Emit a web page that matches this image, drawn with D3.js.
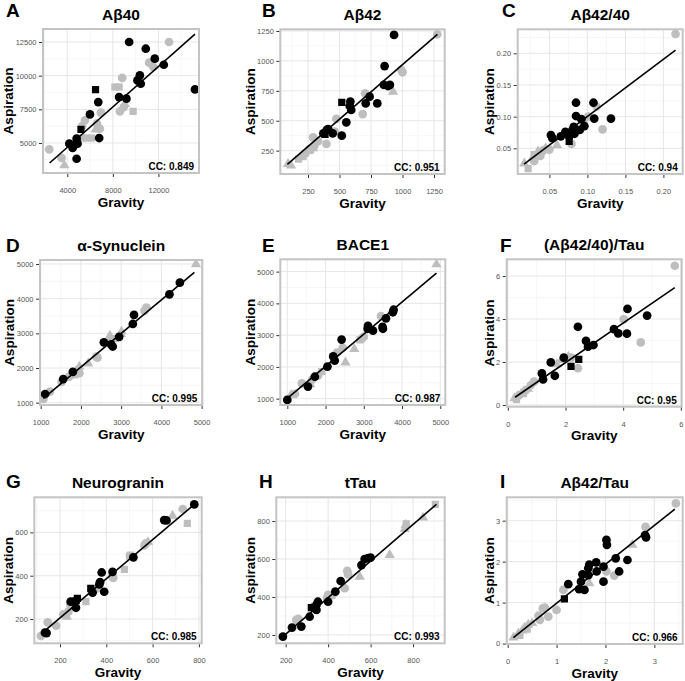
<!DOCTYPE html>
<html><head><meta charset="utf-8">
<script src="https://cdn.jsdelivr.net/npm/d3@7"></script>
<style>
body{margin:0;background:#fff}
svg{display:block}
text{font-family:"Liberation Sans",Arial,Helvetica,sans-serif}
</style>
</head><body>
<svg id="c" width="685" height="681"></svg>
<script>
// ---------------- DATA ----------------
// group codes: first letter colour (b = black, g = grey), second letter shape (c circle, s square, t triangle)
const panelLetters = ["A","B","C","D","E","F","G","H","I"];
const panelTitles = ["Aβ40","Aβ42","Aβ42/40","α-Synuclein","BACE1","(Aβ42/40)/Tau","Neurogranin","tTau","Aβ42/Tau"];
const ccValues = ["0.849","0.951","0.94","0.995","0.987","0.95","0.985","0.993","0.966"];

const ab40Pts = [
 [12930,12500,"gc"],[11180,10960,"gc"],[11550,10650,"gc"],[8820,9830,"gc"],[8620,7350,"gc"],[8960,7670,"gc"],
 [5550,6680,"gc"],[6950,7250,"gc"],[6860,6060,"gc"],[6600,6450,"gc"],[5300,6250,"gc"],[2420,4530,"gc"],[3500,3890,"gc"],[4700,4850,"gc"],
 [8180,9160,"gs"],[8550,9160,"gs"],[9780,7350,"gs"],[5300,5370,"gs"],[5690,5370,"gs"],[6130,5370,"gs"],
 [3740,3340,"gt"],[9050,7900,"gt"],[6500,6000,"gt"],
 [9430,12500,"bc"],[10890,12000,"bc"],[11680,11260,"bc"],[12470,10810,"bc"],[10370,10020,"bc"],[10160,9650,"bc"],
 [10450,9400,"bc"],[15210,8980,"bc"],[8550,8410,"bc"],[9190,8290,"bc"],[6720,8040,"bc"],[5990,7120,"bc"],
 [6800,5370,"bc"],[4180,4950,"bc"],[4900,4950,"bc"],[4820,5320,"bc"],[4470,4630,"bc"],[4820,3830,"bc"],
 [6480,8960,"bs"],[5200,6010,"bs"]
];
const ab42Pts = [
 [1276,1222,"gc"],[991,924,"gc"],[1000,905,"gc"],[703,729,"gc"],[684,556,"gc"],[475,515,"gc"],[462,409,"gc"],
 [290,361,"gc"],[396,306,"gc"],[330,330,"gc"],[260,260,"gc"],[300,290,"gc"],[230,230,"gc"],
 [91,139,"gt"],[925,743,"gt"],[290,270,"gt"],[245,250,"gt"],[200,200,"gt"],[115,125,"gt"],
 [210,200,"gs"],[175,180,"gs"],[270,255,"gs"],
 [933,1217,"bc"],[858,957,"bc"],[852,799,"bc"],[885,790,"bc"],[900,800,"bc"],[739,701,"bc"],[708,645,"bc"],
 [800,645,"bc"],[586,660,"bc"],[593,590,"bc"],[581,623,"bc"],[554,487,"bc"],[518,375,"bc"],[399,423,"bc"],
 [372,395,"bc"],[446,395,"bc"],[410,430,"bc"],
 [518,654,"bs"],[385,385,"bs"]
];
const ratioPts = [
 [0.216,0.2305,"gc"],[0.120,0.080,"gc"],[0.112,0.116,"gc"],[0.101,0.100,"gc"],[0.079,0.057,"gc"],[0.095,0.090,"gc"],
 [0.038,0.038,"gc"],[0.042,0.047,"gc"],[0.030,0.030,"gc"],[0.050,0.048,"gc"],
 [0.017,0.026,"gt"],[0.035,0.045,"gt"],[0.045,0.050,"gt"],[0.060,0.055,"gt"],[0.028,0.035,"gt"],
 [0.022,0.018,"gs"],[0.030,0.040,"gs"],[0.040,0.045,"gs"],
 [0.108,0.122,"bc"],[0.085,0.122,"bc"],[0.085,0.101,"bc"],[0.092,0.096,"bc"],[0.109,0.097,"bc"],[0.131,0.097,"bc"],
 [0.082,0.084,"bc"],[0.090,0.079,"bc"],[0.096,0.085,"bc"],[0.071,0.076,"bc"],[0.076,0.069,"bc"],[0.052,0.071,"bc"],
 [0.054,0.066,"bc"],[0.065,0.069,"bc"],[0.080,0.078,"bc"],[0.083,0.073,"bc"],
 [0.076,0.061,"bs"]
];
const synPts = [
 [3630,3740,"gc"],[3580,3650,"gc"],[2410,2300,"gc"],[2380,2330,"gc"],[1710,1750,"gc"],[1960,1850,"gc"],
 [1230,1320,"gc"],[1070,1110,"gc"],[1520,1600,"gc"],[2750,2790,"gc"],
 [1950,1950,"gs"],[1850,1800,"gs"],[2850,2850,"gs"],
 [4860,4990,"gt"],[3010,3050,"gt"],[2720,2930,"gt"],[2180,2130,"gt"],[1960,2040,"gt"],[1880,1890,"gt"],[2990,2980,"gt"],
 [4460,4460,"bc"],[4200,4125,"bc"],[3320,3530,"bc"],[3290,3270,"bc"],[2950,2900,"bc"],[2570,2740,"bc"],
 [2790,2620,"bc"],[1800,1890,"bc"],[1110,1250,"bc"],[2750,2680,"bc"],[1560,1680,"bc"]
];
const bacePts = [
 [2950,2890,"gc"],[3000,2950,"gc"],[3450,3600,"gc"],[2300,2450,"gc"],[1380,1480,"gc"],[1800,1720,"gc"],
 [1650,1600,"gc"],[2450,2600,"gc"],[1200,1150,"gc"],
 [2900,2850,"gs"],[1900,1850,"gs"],
 [4900,5230,"gt"],[2520,2140,"gt"],[2750,2560,"gt"],[1100,1120,"gt"],[1600,1450,"gt"],
 [3780,3800,"bc"],[3760,3720,"bc"],[3580,3530,"bc"],[3490,3260,"bc"],[3110,3290,"bc"],[3240,3140,"bc"],
 [2420,2860,"bc"],[2200,2330,"bc"],[2240,2200,"bc"],[2050,2010,"bc"],[1720,1690,"bc"],[1540,1380,"bc"],
 [1000,960,"bc"],[3100,3200,"bc"],[3500,3200,"bc"]
];
const ratioTauPts = [
 [5.79,6.48,"gc"],[4.02,3.98,"gc"],[4.61,2.91,"gc"],[2.43,1.71,"gc"],[0.80,0.93,"gc"],[0.91,1.09,"gc"],
 [0.63,0.70,"gc"],[0.40,0.47,"gc"],[0.29,0.31,"gc"],[2.20,2.20,"gc"],
 [1.86,2.09,"gt"],[2.10,2.25,"gt"],[0.23,0.31,"gt"],[0.50,0.50,"gt"],[0.70,0.75,"gt"],[1.70,1.90,"gt"],
 [0.30,0.25,"gs"],[0.55,0.60,"gs"],
 [4.15,4.47,"bc"],[4.83,4.16,"bc"],[3.68,3.53,"bc"],[3.83,3.33,"bc"],[4.13,3.32,"bc"],[2.43,3.64,"bc"],
 [2.71,2.98,"bc"],[2.78,2.71,"bc"],[2.97,2.79,"bc"],[1.94,2.20,"bc"],[1.49,1.98,"bc"],[1.63,1.36,"bc"],
 [1.18,1.47,"bc"],[1.22,1.19,"bc"],
 [2.46,2.12,"bs"],[2.19,1.80,"bs"]
];
const ngPts = [
 [730,708,"gc"],[571,549,"gc"],[565,540,"gc"],[427,400,"gc"],[430,390,"gc"],[361,342,"gc"],[236,234,"gc"],
 [214,221,"gc"],[183,169,"gc"],[118,122,"gc"],[147,185,"gc"],[245,265,"gc"],
 [750,642,"gs"],[500,490,"gs"],[505,495,"gs"],[478,429,"gs"],[333,338,"gs"],[312,280,"gs"],
 [686,677,"gt"],[229,211,"gt"],[580,555,"gt"],
 [780,729,"bc"],[650,657,"bc"],[660,655,"bc"],[517,485,"bc"],[380,415,"bc"],[427,418,"bc"],[373,370,"bc"],
 [370,360,"bc"],[391,326,"bc"],[341,322,"bc"],[246,280,"bc"],[269,252,"bc"],[135,137,"bc"],[142,135,"bc"],
 [333,342,"bs"],[275,295,"bs"],[270,285,"bs"]
];
const tauPts = [
 [494,519,"gc"],[490,537,"gc"],[478,446,"gc"],[400,411,"gc"],[395,395,"gc"],[250,279,"gc"],[260,285,"gc"],[420,410,"gc"],
 [905,888,"gs"],[768,785,"gs"],
 [847,818,"gt"],[765,779,"gt"],[760,758,"gt"],[690,621,"gt"],[549,507,"gt"],
 [600,607,"bc"],[588,605,"bc"],[572,600,"bc"],[557,568,"bc"],[459,484,"bc"],[434,428,"bc"],[400,375,"bc"],
 [352,375,"bc"],[345,358,"bc"],[329,344,"bc"],[313,296,"bc"],[345,332,"bc"],[274,244,"bc"],[230,239,"bc"],[187,191,"bc"],
 [321,344,"bs"]
];
const ab42TauPts = [
 [3.44,3.42,"gc"],[2.82,2.85,"gc"],[2.02,1.76,"gc"],[2.18,1.66,"gc"],[1.14,1.31,"gc"],[0.76,0.88,"gc"],
 [0.72,0.86,"gc"],[1.00,0.82,"gc"],[0.83,0.66,"gc"],[0.63,0.68,"gc"],[0.66,0.58,"gc"],
 [2.55,2.41,"gt"],[1.67,1.47,"gt"],[0.42,0.46,"gt"],[0.35,0.39,"gt"],[0.22,0.25,"gt"],[0.12,0.15,"gt"],[0.30,0.32,"gt"],[0.50,0.50,"gt"],
 [0.25,0.20,"gs"],[0.40,0.35,"gs"],
 [2.81,2.65,"bc"],[2.83,2.59,"bc"],[2.02,2.53,"bc"],[2.03,2.41,"bc"],[2.21,2.08,"bc"],[2.45,2.04,"bc"],
 [2.28,1.76,"bc"],[1.96,1.88,"bc"],[1.96,1.51,"bc"],[1.81,1.98,"bc"],[1.82,1.76,"bc"],[1.67,1.93,"bc"],
 [1.65,1.84,"bc"],[1.53,1.69,"bc"],[1.65,1.67,"bc"],[1.50,1.51,"bc"],[1.46,1.33,"bc"],[1.57,1.31,"bc"],[1.24,1.45,"bc"],
 [1.16,1.09,"bs"]
];

// fitted regression lines (start, end)
const ab40Fit = [[2450,3515],[15210,13090]];
const ab42Fit = [[86,136],[1277,1222]];
const ratioFit = [[0.0167,0.025],[0.216,0.205]];
const synFit = [[1066,1125],[4820,4760]];
const baceFit = [[1000,1010],[4900,4950]];
const ratioTauFit = [[0.25,0.36],[5.79,5.46]];
const ngFit = [[121,134],[780,729]];
const tauFit = [[187,191],[910,888]];
const ab42TauFit = [[0.116,0.146],[3.42,3.28]];

// axis ticks
const ab40XTicks = [4000,8000,12000], ab40YTicks = [5000,7500,10000,12500];
const ab42XTicks = [250,500,750,1000,1250], ab42YTicks = [250,500,750,1000,1250];
const ratioXTicks = [0.05,0.10,0.15,0.20], ratioYTicks = [0.05,0.10,0.15,0.20];
const synXTicks = [1000,2000,3000,4000,5000], synYTicks = [1000,2000,3000,4000,5000];
const baceXTicks = [1000,2000,3000,4000,5000], baceYTicks = [1000,2000,3000,4000,5000];
const ratioTauXTicks = [0,2,4,6], ratioTauYTicks = [0,2,4,6];
const ngXTicks = [200,400,600,800], ngYTicks = [200,400,600];
const tauXTicks = [200,400,600,800], tauYTicks = [200,400,600,800];
const ab42TauXTicks = [0,1,2,3], ab42TauYTicks = [0,1,2,3];

// axis domains
const ab40XDomain = [1869,15562], ab40YDomain = [2772,13465];
const ab42XDomain = [30,1335], ab42YDomain = [55,1264];
const ratioXDomain = [0.0083,0.2254], ratioYDomain = [0.0095,0.2379];
const synXDomain = [983,5017], synYDomain = [933,5115];
const baceXDomain = [817,5131], baceYDomain = [800,5388];
const ratioTauXDomain = [-0.04,6.03], ratioTauYDomain = [-0.08,6.78];
const ngXDomain = [89,812], ngYDomain = [88,762];
const tauXDomain = [156,949], tauYDomain = [156,925];
const ab42TauXDomain = [-0.02,3.58], ab42TauYDomain = [-0.01,3.57];

// ---------------- LAYOUT ----------------
const rects = [
 [43,29,199,173],[280.3,29.3,444.7,174],[517.7,29.3,682.7,174],
 [40,260,202.3,405],[280.3,259.3,445.3,405],[506.7,259.3,681.7,406.7],
 [34.3,497.3,201.7,643.3],[276.3,497.3,444.7,643.3],[506.7,497.3,682.7,644]
];
const letterPos = [[6,17],[262,17],[502,17],[6,252],[262,252],[500,252],[6,487.5],[259,487.5],[500,487.5]];

const pts = [ab40Pts,ab42Pts,ratioPts,synPts,bacePts,ratioTauPts,ngPts,tauPts,ab42TauPts];
const fits = [ab40Fit,ab42Fit,ratioFit,synFit,baceFit,ratioTauFit,ngFit,tauFit,ab42TauFit];
const xTicks = [ab40XTicks,ab42XTicks,ratioXTicks,synXTicks,baceXTicks,ratioTauXTicks,ngXTicks,tauXTicks,ab42TauXTicks];
const yTicks = [ab40YTicks,ab42YTicks,ratioYTicks,synYTicks,baceYTicks,ratioTauYTicks,ngYTicks,tauYTicks,ab42TauYTicks];
const xDoms = [ab40XDomain,ab42XDomain,ratioXDomain,synXDomain,baceXDomain,ratioTauXDomain,ngXDomain,tauXDomain,ab42TauXDomain];
const yDoms = [ab40YDomain,ab42YDomain,ratioYDomain,synYDomain,baceYDomain,ratioTauYDomain,ngYDomain,tauYDomain,ab42TauYDomain];

const svg = d3.select("#c");
const FONT = '"Liberation Sans",Arial,Helvetica,sans-serif';
const GREY = "#bebebe";
const symType = {c: d3.symbolCircle, s: d3.symbolSquare, t: d3.symbolTriangle};
const symSize = {c: 60, s: 52, t: 46};

function minorOf(ticks, dom){
  const s = ticks[1]-ticks[0], out=[];
  for(let k=-30;k<=60;k++){const v=ticks[0]+(k+0.5)*s; if(v>dom[0]&&v<dom[1]) out.push(v);}
  return out;
}

for(let i=0;i<9;i++){
  const [x0,y0,x1,y1] = rects[i];
  const x = d3.scaleLinear().domain(xDoms[i]).range([x0,x1]);
  const y = d3.scaleLinear().domain(yDoms[i]).range([y1,y0]);
  const fmt = i===2 ? d3.format(".2f") : d3.format("d");
  const g = svg.append("g");
  g.append("rect").attr("x",x0).attr("y",y0).attr("width",x1-x0).attr("height",y1-y0).attr("fill","#fff");

  // grid
  const grid = g.append("g");
  minorOf(xTicks[i],xDoms[i]).forEach(v=>grid.append("line").attr("x1",x(v)).attr("x2",x(v)).attr("y1",y0).attr("y2",y1).attr("stroke","#f2f2f2").attr("stroke-width",0.7));
  minorOf(yTicks[i],yDoms[i]).forEach(v=>grid.append("line").attr("y1",y(v)).attr("y2",y(v)).attr("x1",x0).attr("x2",x1).attr("stroke","#f2f2f2").attr("stroke-width",0.7));
  xTicks[i].forEach(v=>grid.append("line").attr("x1",x(v)).attr("x2",x(v)).attr("y1",y0).attr("y2",y1).attr("stroke","#e6e6e6").attr("stroke-width",1));
  yTicks[i].forEach(v=>grid.append("line").attr("y1",y(v)).attr("y2",y(v)).attr("x1",x0).attr("x2",x1).attr("stroke","#e6e6e6").attr("stroke-width",1));

  // clip
  const cid = "clip"+i;
  svg.append("clipPath").attr("id",cid).append("rect").attr("x",x0).attr("y",y0).attr("width",x1-x0).attr("height",y1-y0);
  const inner = g.append("g").attr("clip-path",`url(#${cid})`);

  const ordered = pts[i].filter(d=>d[2][0]==="g").concat(pts[i].filter(d=>d[2][0]==="b"));
  inner.selectAll("path.pt").data(ordered).join("path").attr("class","pt")
    .attr("d",d=>d3.symbol(symType[d[2][1]], symSize[d[2][1]])())
    .attr("transform",d=>`translate(${x(d[0])},${y(d[1])})`)
    .attr("fill",d=>d[2][0]==="b"?"#000":GREY);

  const f = fits[i];
  inner.append("line").attr("x1",x(f[0][0])).attr("y1",y(f[0][1])).attr("x2",x(f[1][0])).attr("y2",y(f[1][1]))
    .attr("stroke","#000").attr("stroke-width",1.6);

  // CC label
  g.append("text").attr("x",x1-5).attr("y",y1-3).attr("text-anchor","end")
    .attr("font-weight","bold").attr("font-size",10).attr("fill","#000").text("CC: "+ccValues[i]);

  // border
  g.append("rect").attr("x",x0).attr("y",y0).attr("width",x1-x0).attr("height",y1-y0)
    .attr("fill","none").attr("stroke","#c4c4c4").attr("stroke-width",2);

  // axes
  const ax = g.append("g").attr("transform",`translate(0,${y1+1})`)
    .call(d3.axisBottom(x).tickValues(xTicks[i]).tickSize(3).tickPadding(10.5).tickFormat(fmt));
  const ay = g.append("g").attr("transform",`translate(${x0-1},0)`)
    .call(d3.axisLeft(y).tickValues(yTicks[i]).tickSize(3).tickPadding(2.5).tickFormat(fmt));
  [ax,ay].forEach(a=>{
    a.attr("font-family",FONT).attr("font-size",7.5);
    a.select(".domain").remove();
    a.selectAll(".tick line").attr("stroke","#333").attr("stroke-width",1);
    a.selectAll(".tick text").attr("fill","#555");
  });
  let maxW = 0;
  ay.selectAll(".tick text").each(function(){maxW=Math.max(maxW,this.getComputedTextLength());});

  // axis titles
  g.append("text").attr("x",(x0+x1)/2).attr("y",y1+33.5).attr("text-anchor","middle")
    .attr("font-weight","bold").attr("font-size",13.5).attr("fill","#000").text("Gravity");
  const ax_x = x0-1-3-2.5-maxW-2.5;
  g.append("text").attr("transform",`translate(${ax_x},${(y0+y1)/2}) rotate(-90)`).attr("text-anchor","middle")
    .attr("font-weight","bold").attr("font-size",13.5).attr("fill","#000").text("Aspiration");

  // title
  g.append("text").attr("x",(x0+x1)/2).attr("y",y0-9.5).attr("text-anchor","middle")
    .attr("font-weight","bold").attr("font-size",15.5).attr("fill","#000").text(panelTitles[i]);
  // panel letter
  g.append("text").attr("x",letterPos[i][0]).attr("y",letterPos[i][1])
    .attr("font-weight","bold").attr("font-size",19).attr("fill","#000").text(panelLetters[i]);
}
</script>
</body></html>
